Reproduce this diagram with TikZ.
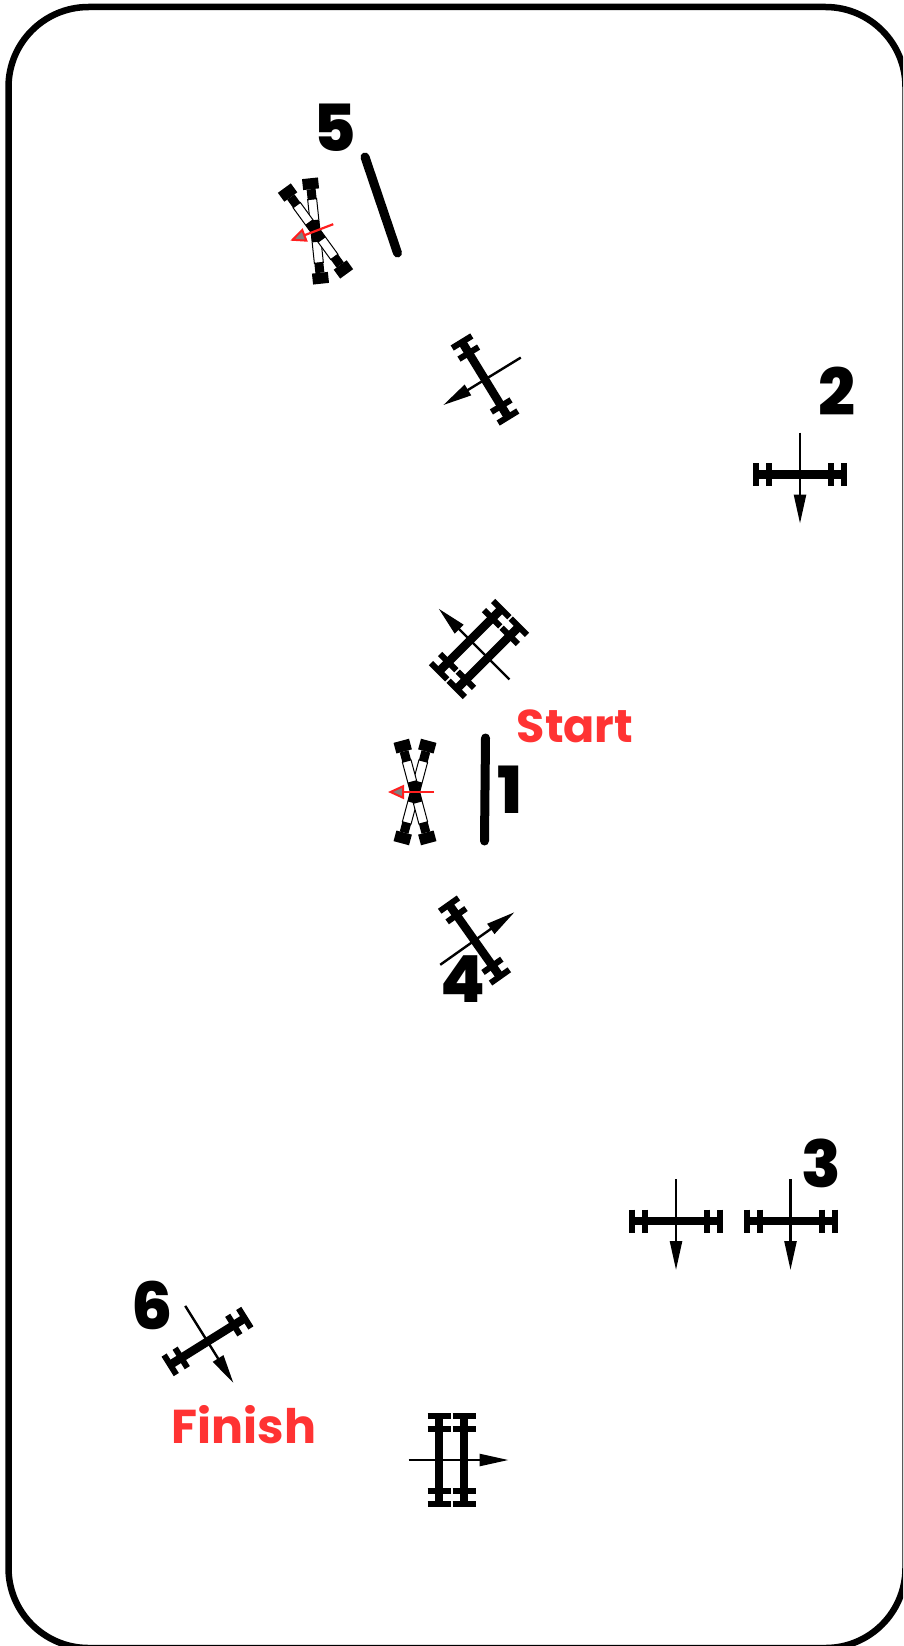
\documentclass[tikz,border=0pt]{standalone}
\usepackage{xcolor}
\usepackage{fontspec}
\setmainfont{Poppins}
\newfontfamily\numfont{Poppins ExtraBold}
\usetikzlibrary{arrows.meta}

\definecolor{labelred}{HTML}{FF3333}
\definecolor{spinred}{HTML}{FF1F1F}

% one rail with its four cross ticks
\newcommand{\railbar}[1]{
	\draw[rail] (-44,#1) -- (44,#1);
	\foreach \tx in {-44,-31,31,44}
		\draw[railtick] (\tx,#1-11.5) -- (\tx,#1+11.5);
}
% one rod of the crossed pair
\newcommand{\crossrod}[1]{
	\begin{scope}[rotate=#1]
		\filldraw[rodfill] (-32,-4.5) rectangle (32,4.5);
		\fill (-11,-4.5) rectangle (11,4.5);
		\fill (-42,-4.5) rectangle (-32,4.5);
		\fill (32,-4.5) rectangle (42,4.5);
		\fill (-53,-8) rectangle (-42,8);
		\fill (42,-8) rectangle (53,8);
	\end{scope}
}

\tikzset{
	rail/.style={line width=8.5pt},
	railtick/.style={line width=6pt},
	dirarrow/.style={line width=2.4pt, -{Triangle[length=29pt,width=12pt]}},
	brake/.style={line width=9pt, line cap=round},
	rodfill/.style={draw=black, fill=white, line width=1pt},
	spinarrow/.style={spinred, line width=2.2pt, -{Triangle[length=16pt,width=14pt,fill=gray,line width=2pt]}},
	numlabel/.style={inner sep=0pt, font=\fontsize{65}{65}\numfont},
	redlabel/.style={inner sep=0pt, text=labelred, font=\fontsize{46}{46}\selectfont\bfseries},
	bogie/.pic={
		\railbar{0}
		\draw[dirarrow] (0,-42) -- (0,49);
	},
	doublebogie/.pic={
		\railbar{-12.5}
		\railbar{12.5}
		\draw[dirarrow] (0,-43) -- (0,57);
	},
	crossbogie/.pic={
		\crossrod{-15}
		\crossrod{15}
		\draw[spinarrow] (0,-19) -- (0,27);
	}
}

\begin{document}
\begin{tikzpicture}[x=1pt, y=-1pt]
	\useasboundingbox (0,0) rectangle (903,1646);
	\clip (0,0) rectangle (903,1646);

	% Frame
	\draw[line width=6.5pt, rounded corners=80pt] (8.5,7) rectangle (905.5,1648);

	% Labels
	\node[numlabel] (five) at (335,128) {5};
	\node[numlabel] (two) at (837,391) {2};
	\node[numlabel] (one) at (510,790) {1};
	\node[numlabel] (four) at (463,979) {4};
	\node[numlabel] (three) at (821,1163) {3};
	\node[numlabel] (six) at (152,1305) {6};
	\node[redlabel] (start) at (575,726) {Start};
	\node[redlabel, font=\fontsize{47.5}{47.5}\selectfont\bfseries] (finish) at (244,1425) {Finish};

	% Brake bars
	\draw[brake] (365,157) -- (397.5,253);
	\draw[brake] (485.5,738) -- (484.5,841);

	% Crossed rods
	\pic[rotate=-69] (crosstop) at (315.5,231) {crossbogie};
	\pic[rotate=-90] (crossmid) at (415,792) {crossbogie};

	% Single bogies
	\pic[rotate=-58.5] (bogieupper) at (485,379.5) {bogie};
	\pic (bogieright) at (800,474.5) {bogie};
	\pic[rotate=125.3] (bogielower) at (474.5,940.5) {bogie};
	\pic (bogiethreea) at (676,1221) {bogie};
	\pic (bogiethreeb) at (790.5,1221) {bogie};
	\pic[rotate=32] (bogiefinish) at (207.5,1341.5) {bogie};

	% Double bogies
	\pic[rotate=-135] (doublemid) at (479,649) {doublebogie};
	\pic[rotate=90] (doublebottom) at (451.5,1460) {doublebogie};
\end{tikzpicture}
\end{document}
